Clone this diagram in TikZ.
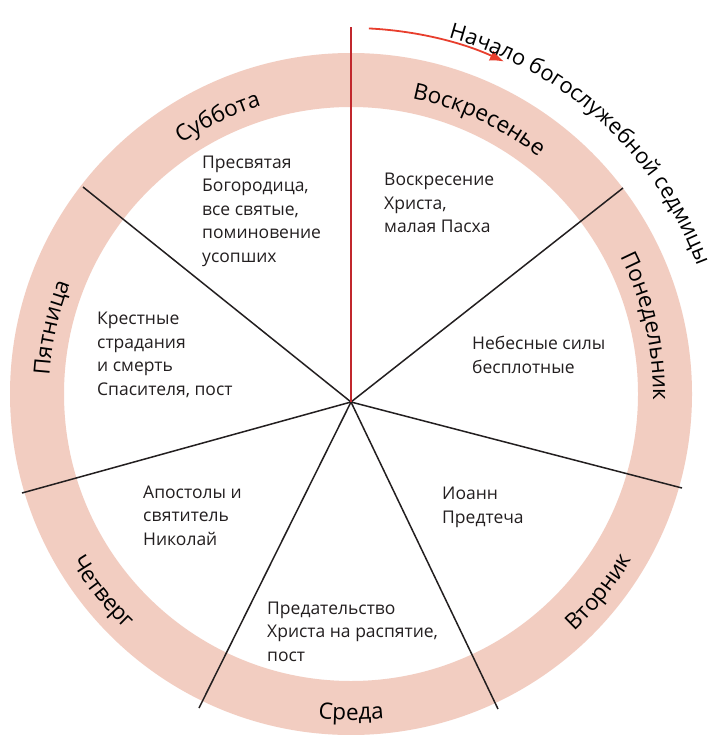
\documentclass[tikz,border=0pt]{standalone}
\usepackage{fontspec}
\setmainfont{Open Sans}
\usetikzlibrary{arrows.meta,decorations.text}

\definecolor{ringpink}{RGB}{242,205,193}
\definecolor{txt}{RGB}{35,31,32}
\definecolor{startred}{RGB}{193,39,45}
\definecolor{arrowred}{RGB}{232,62,45}

\newcommand{\notefont}{\fontsize{17.5}{23.5}\selectfont}
\newcommand{\dayfont}{\fontsize{22.5}{26}\selectfont}
\newcommand{\weekfont}{\fontsize{21.8}{26}\selectfont}

\tikzset{
  spoke/.style={draw=txt, line width=1.5pt},
  note/.style={anchor=base west, align=left, inner sep=0pt, font=\notefont, text=txt},
  dayname/.style={decorate, decoration={text along path, text align=center, text={|\dayfont|#1}}},
  weekname/.style={decorate, decoration={text along path, text align=center, text={|\weekfont|#1}}},
}

\begin{document}
\begin{tikzpicture}[x=1pt, y=1pt, color=txt]
    \useasboundingbox (0,0) rectangle (716,-735);
    \fill[white] (0,0) rectangle (716,-735);
    \coordinate (c) at (351,-394);
    \coordinate (hub) at (351,-402);
    \coordinate (top) at (351,-27);
    % ring of the days
    \fill[ringpink, even odd rule] (c) circle[radius=341] (c) circle[radius=287];
    % borders between the days
    \coordinate (sunmon) at (623,-188);
    \coordinate (montue) at (682,-488);
    \coordinate (tuewed) at (498,-709);
    \coordinate (wedthu) at (199,-708);
    \coordinate (thufri) at (22,-493);
    \coordinate (frisat) at (83,-187);
    \draw[spoke] (hub) -- (sunmon);
    \draw[spoke] (hub) -- (montue);
    \draw[spoke] (hub) -- (tuewed);
    \draw[spoke] (hub) -- (wedthu);
    \draw[spoke] (hub) -- (thufri);
    \draw[spoke] (hub) -- (frisat);
    \draw[startred, line width=1.5pt] (hub) -- (top);
    % start of the week
    \draw[arrowred, line width=1.8pt, -{Latex[length=14pt, width=11pt]}]
        ([shift={(87.2:366)}]c) arc[start angle=87.2, end angle=65.3, radius=366];
    \path[weekname=Начало богослужебной седмицы]
        ([shift={(99:369)}]c) arc[start angle=99, end angle=-4, radius=369];
    % names of the days
    \path[dayname=Воскресенье] ([shift={(105:302)}]c) arc[start angle=105, end angle=25, radius=302];
    \path[dayname=Понедельник] ([shift={(52.9:302)}]c) arc[start angle=52.9, end angle=-27.1, radius=302];
    \path[dayname=Вторник] ([shift={(-78.6:326)}]c) arc[start angle=-78.6, end angle=1.4, radius=326];
    \path[dayname=Среда] ([shift={(-130:326)}]c) arc[start angle=-130, end angle=-50, radius=326];
    \path[dayname=Четверг] ([shift={(178.6:326)}]c) arc[start angle=178.6, end angle=258.6, radius=326];
    \path[dayname=Пятница] ([shift={(207.5:302)}]c) arc[start angle=207.5, end angle=127.5, radius=302];
    \path[dayname=Суббота] ([shift={(155.7:302)}]c) arc[start angle=155.7, end angle=75.7, radius=302];
    % what each day is devoted to
    \node[note] (sunnote) at (384,-233) {Воскресение\\Христа,\\малая Пасха};
    \node[note] (monnote) at (472,-373) {Небесные силы\\бесплотные};
    \node[note] (tuenote) at (442,-523) {Иоанн\\Предтеча};
    \node[note] (wednote) at (267,-661) {Предательство\\Христа на распятие,\\пост};
    \node[note] (thunote) at (143,-545) {Апостолы и\\святитель\\Николай};
    \node[note] (frinote) at (97,-395) {Крестные\\страдания\\и смерть\\Спасителя, пост};
    \node[note] (satnote) at (202,-262) {Пресвятая\\Богородица,\\все святые,\\поминовение\\усопших};
\end{tikzpicture}
\end{document}
